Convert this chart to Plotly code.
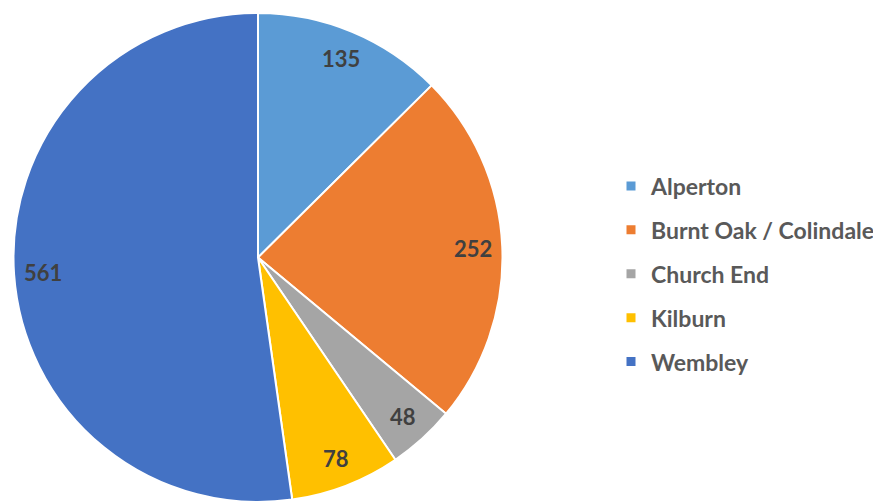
import math
import plotly.graph_objects as go

labels = ["Alperton", "Burnt Oak / Colindale", "Church End", "Kilburn", "Wembley"]
values = [135, 252, 48, 78, 561]
colors = ["#5B9BD5", "#ED7D31", "#A5A5A5", "#FFC000", "#4472C4"]

# figure is drawn inside the page's default 8px body margin
W, H = 873, 494
MT, MB = 5, 0
PW, PH = W, H - MT - MB
DOM_X = [0, 500 / W]
R = min((DOM_X[1] - DOM_X[0]) * PW, PH) / 2
LABEL_FRAC = 0.88

fig = go.Figure()
fig.add_trace(go.Pie(
    labels=labels, values=values, sort=False, direction="clockwise", rotation=0,
    marker=dict(colors=colors, line=dict(color="white", width=2)),
    textinfo="none",
    domain=dict(x=DOM_X, y=[0, 1]),
    showlegend=False, hoverinfo="label+value",
))

# data labels placed along each slice's bisector (derived from the values)
total = sum(values)
cx = (DOM_X[0] + DOM_X[1]) / 2 * PW
cy = PH / 2
cum = 0
for v in values:
    mid = (cum + v / 2) / total * 2 * math.pi
    cum += v
    px = cx + LABEL_FRAC * R * math.sin(mid)
    py = cy + LABEL_FRAC * R * math.cos(mid)
    fig.add_annotation(
        x=px / PW, y=py / PH, xref="paper", yref="paper", text=str(v),
        showarrow=False, xanchor="center", yanchor="middle",
        font=dict(family="Lato", size=22, color="#404040", weight="bold"),
    )

for lab, col in zip(labels, colors):
    fig.add_trace(go.Scatter(
        x=[None], y=[None], mode="markers", name=lab, legendgroup=lab,
        marker=dict(symbol="square", size=9, color=col), showlegend=True,
        hoverinfo="skip",
    ))

fig.update_layout(
    width=W, height=H, margin=dict(l=0, r=0, t=MT, b=MB),
    paper_bgcolor="white", plot_bgcolor="white",
    xaxis=dict(visible=False), yaxis=dict(visible=False),
    legend=dict(x=603 / W, xanchor="left", y=1 - (266 - MT) / PH, yanchor="middle",
                font=dict(family="Lato", size=23, color="#595959", weight="bold"),
                tracegroupgap=11, itemclick=False, itemdoubleclick=False),
    showlegend=True,
)
fig.write_html("out.html")
